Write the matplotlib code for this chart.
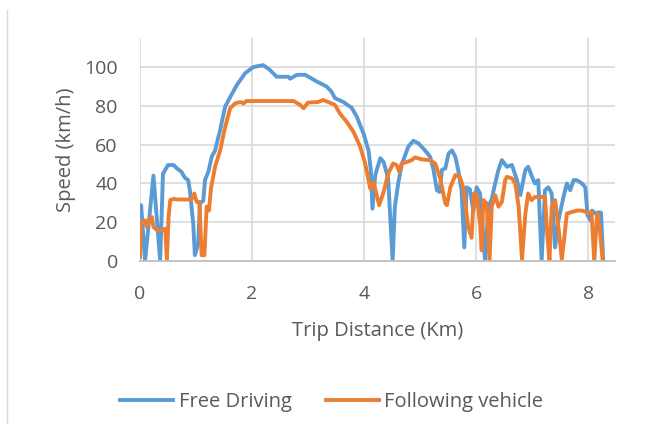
import matplotlib
matplotlib.use("Agg")
import matplotlib.pyplot as plt
from matplotlib.lines import Line2D

# Free Driving (blue)
free_x = [0.0, 0.02, 0.09, 0.24, 0.36, 0.41, 0.5, 0.6, 0.65, 0.74,
          0.8, 0.86, 0.89, 0.95, 0.98, 1.04, 1.07, 1.13, 1.16, 1.22,
          1.28, 1.34, 1.43, 1.52, 1.6, 1.73, 1.875, 2.02, 2.2, 2.32,
          2.44, 2.65, 2.68, 2.8, 2.95, 3.16, 3.33, 3.42, 3.48, 3.63,
          3.78, 3.87, 3.99, 4.08, 4.12, 4.15, 4.2, 4.29, 4.35, 4.43,
          4.51, 4.55, 4.61, 4.67, 4.79, 4.88, 4.97, 5.09, 5.18, 5.24,
          5.3, 5.35, 5.39, 5.45, 5.51, 5.57, 5.63, 5.68, 5.74, 5.79,
          5.83, 5.89, 5.95, 6.01, 6.07, 6.16, 6.22, 6.28, 6.34, 6.4,
          6.46, 6.55, 6.64, 6.73, 6.79, 6.88, 6.93, 7.0, 7.05, 7.11,
          7.17, 7.23, 7.29, 7.35, 7.41, 7.47, 7.56, 7.62, 7.68, 7.74,
          7.8, 7.89, 7.95, 7.99, 8.04, 8.07, 8.13, 8.18, 8.23, 8.27]
free_y = [25, 28.8, 0, 44, 0, 45, 49.5, 49.5, 48, 46,
          43, 41.7, 36.5, 19.5, 3, 9, 30, 31, 41.7, 46,
          53.7, 57, 67.5, 79.6, 84, 90.8, 96.8, 100, 101, 98.5,
          95, 95, 94, 96, 96, 92.5, 90, 87.3, 84, 82,
          79, 74.4, 65.8, 57, 47, 27, 44.3, 53, 51, 42.6,
          0, 28, 40, 49.5, 59, 62, 60.7, 57, 53.7, 47,
          36.5, 35.6, 47, 47.7, 55.5, 57, 53.7, 47, 36.5, 7,
          38, 37, 26, 38, 34.8, 0, 28, 32, 40, 47,
          52, 48.6, 49.5, 41.7, 34, 47, 48.6, 43.4, 40, 41.7,
          0, 36.5, 38, 34.8, 7, 21, 33, 40, 36.5, 41.7,
          41.7, 40, 38, 23.6, 21, 26, 24.5, 25, 25, 0]

# Following vehicle (orange)
follow_x = [0.0, 0.02, 0.09, 0.12, 0.18, 0.21, 0.24, 0.3, 0.42, 0.45,
            0.48, 0.51, 0.54, 0.6, 0.68, 0.92, 0.97, 1.01, 1.06, 1.1,
            1.15, 1.19, 1.23, 1.27, 1.34, 1.43, 1.52, 1.61, 1.7, 1.79,
            1.85, 1.9, 2.74, 2.86, 2.92, 3.0, 3.18, 3.27, 3.36, 3.48,
            3.57, 3.69, 3.81, 3.93, 4.02, 4.11, 4.17, 4.27, 4.35, 4.43,
            4.52, 4.58, 4.63, 4.67, 4.76, 4.85, 4.91, 5.03, 5.18, 5.27,
            5.36, 5.45, 5.48, 5.54, 5.63, 5.71, 5.77, 5.86, 5.92, 5.96,
            6.01, 6.07, 6.1, 6.13, 6.19, 6.24, 6.28, 6.34, 6.4, 6.46,
            6.52, 6.55, 6.64, 6.7, 6.76, 6.82, 6.88, 6.93, 6.99, 7.05,
            7.23, 7.27, 7.31, 7.35, 7.41, 7.47, 7.53, 7.57, 7.62, 7.68,
            7.8, 7.89, 8.0, 8.06, 8.11, 8.16, 8.21, 8.26]
follow_y = [2, 19.3, 21, 17.6, 22, 22.7, 17.6, 16, 16, 16.7,
            1, 22.7, 31.4, 32, 31.7, 31.7, 34.8, 30.5, 30.5, 3,
            3, 28, 26, 38, 48.6, 57, 69, 78.8, 81.3, 82,
            81.3, 82.5, 82.5, 80.5, 78.8, 81.7, 82, 83, 82, 80.5,
            76, 71.8, 66.7, 59, 50.3, 37.4, 40.5, 28.8, 35.6, 45,
            50.3, 49.5, 46, 50.3, 51, 52, 53.4, 52.4, 52, 50.3,
            42.6, 29.7, 28.8, 38, 44.3, 43.4, 38, 17.6, 12, 34.8,
            34, 19.3, 5.5, 31.4, 29.7, 0, 28, 34, 28, 30.5,
            41.7, 43.4, 42.6, 40, 28, 1, 24.5, 34.8, 31.4, 33,
            33, 14, 0, 28, 31.4, 17.6, 1, 10.7, 24.5, 25,
            26, 26, 25, 25, 0, 24.5, 16, 0]

BLUE = "#5B9BD5"
ORANGE = "#ED7D31"
TEXT = "#595959"
GRID = "#D9D9D9"

plt.rcParams["font.family"] = ["Open Sans", "DejaVu Sans"]

fig = plt.figure(figsize=(6.54, 4.37), dpi=100)
ax = fig.add_axes([140 / 654, 176 / 437, 475 / 654, 223 / 437])

ax.plot(free_x, free_y, color=BLUE, lw=2.8, solid_joinstyle="round", label="Free Driving")
ax.plot(follow_x, follow_y, color=ORANGE, lw=2.8, solid_joinstyle="round", label="Following vehicle")

ax.set_xlim(0, 8.48)
ax.set_ylim(0, 115)
ax.set_xticks([0, 2, 4, 6, 8])
ax.set_yticks([0, 20, 40, 60, 80, 100])
ax.grid(True, color=GRID, lw=1.2)
ax.set_axisbelow(True)
for s in ["top", "right", "left"]:
    ax.spines[s].set_visible(False)
ax.spines["bottom"].set_color("#BFBFBF")
ax.spines["bottom"].set_linewidth(1.3)
ax.tick_params(length=0, labelsize=14, labelcolor=TEXT)
ax.tick_params(axis="x", pad=17)
ax.tick_params(axis="y", pad=16)

ax.set_xlabel("Trip Distance (Km)", fontsize=14.5, color=TEXT, labelpad=13)
ax.set_ylabel("Speed (km/h)", fontsize=14.5, color=TEXT, labelpad=6)

handles = [Line2D([], [], color=BLUE, lw=2.8), Line2D([], [], color=ORANGE, lw=2.8)]
fig.legend(handles, ["Free Driving", "Following vehicle"], loc="center",
           bbox_to_anchor=(0.507, 0.08), ncol=2, frameon=False,
           fontsize=14.5, labelcolor=TEXT, handlelength=2.65, handletextpad=0.25,
           columnspacing=1.7)

# light chart border at the left
fig.add_artist(Line2D([7 / 654, 7 / 654], [1 - 10 / 437, 1 - 423 / 437],
                      color="#D9D9D9", lw=1))

fig.savefig("out.png", dpi=100)
